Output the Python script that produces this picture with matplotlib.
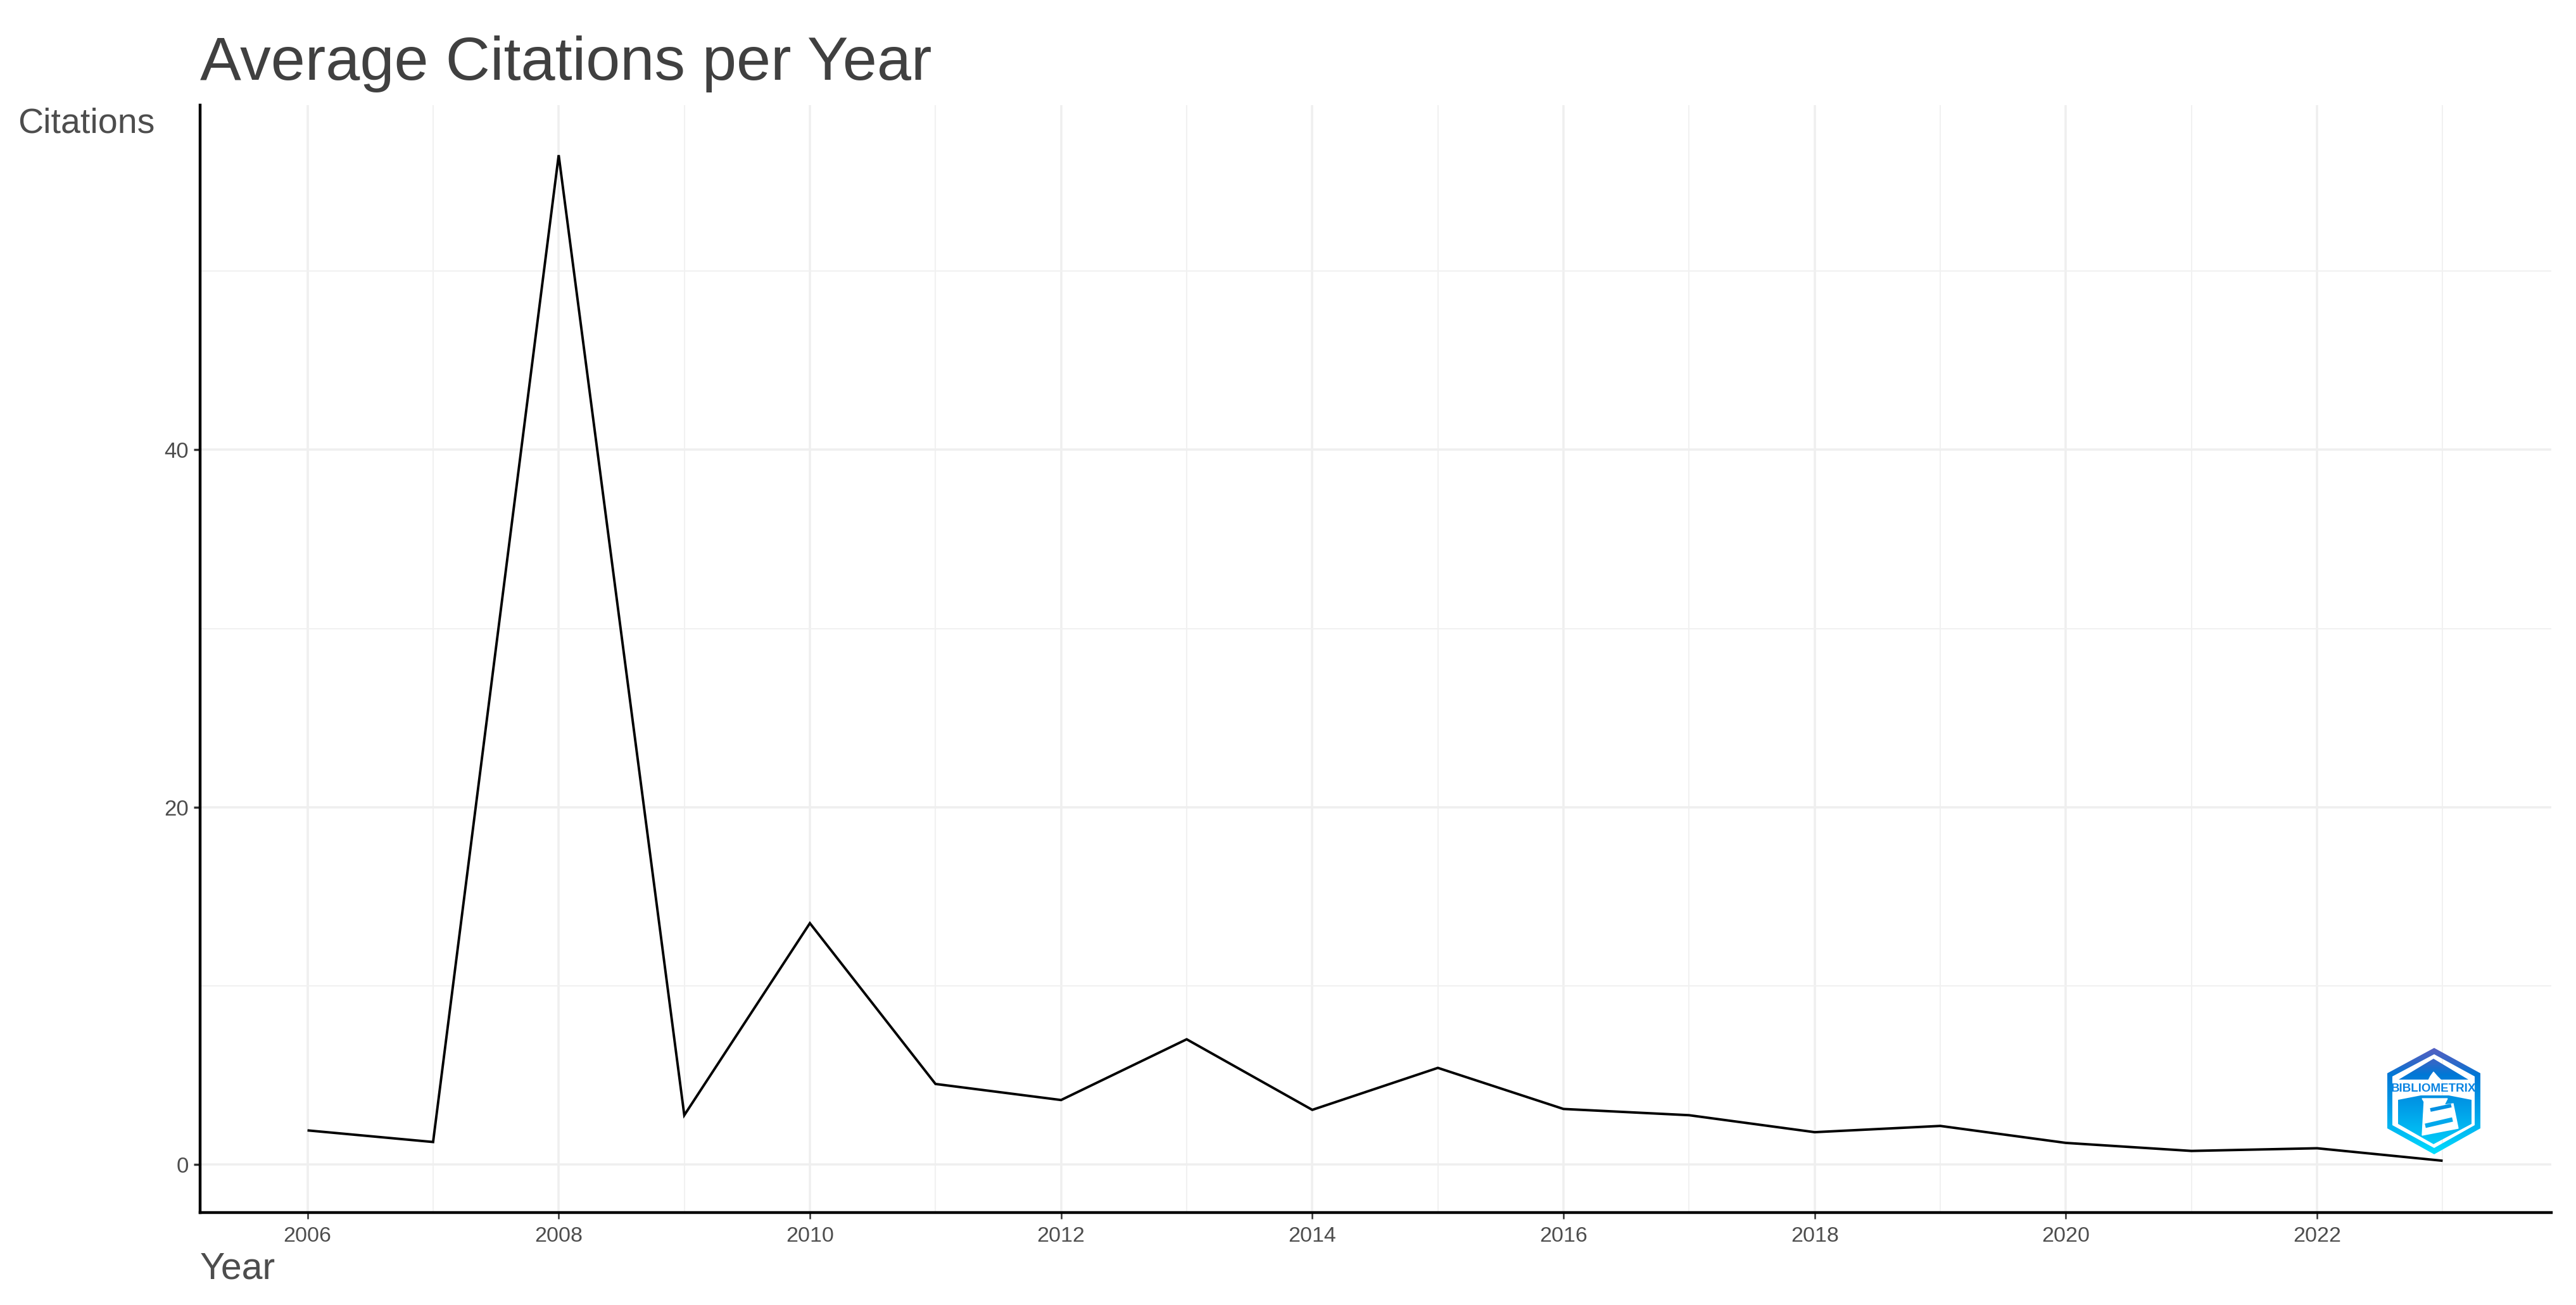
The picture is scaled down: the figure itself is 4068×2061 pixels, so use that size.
import numpy as np
import matplotlib
matplotlib.use("Agg")
import matplotlib.pyplot as plt
from matplotlib.path import Path
from matplotlib.patches import PathPatch
from matplotlib.colors import LinearSegmentedColormap

years = [2006, 2007, 2008, 2009, 2010, 2011, 2012, 2013, 2014,
         2015, 2016, 2017, 2018, 2019, 2020, 2021, 2022, 2023]
citations = [1.9, 1.25, 56.5, 2.75, 13.5, 4.5, 3.6, 7.0, 3.05,
             5.4, 3.1, 2.75, 1.8, 2.15, 1.2, 0.75, 0.9, 0.2]
x_major = [2006, 2008, 2010, 2012, 2014, 2016, 2018, 2020, 2022]
x_minor = [2007, 2009, 2011, 2013, 2015, 2017, 2019, 2021, 2023]
y_major = [0, 20, 40]
y_minor = [10, 30, 50]

W, H = 4068, 2061
plt.rcParams['font.family'] = ['Liberation Sans', 'DejaVu Sans']
fig = plt.figure(figsize=(W / 100, H / 100), dpi=100, facecolor='white')

def fx(px): return px / W
def fy(py): return 1 - py / H

L, R, T, B = 316, 4029, 166, 1915
ax = fig.add_axes([fx(L), fy(B), fx(R - L), (B - T) / H])
ax.set_xlim(2005.145, 2023.865)
ax.set_ylim(-2.7, 59.3)

ax.set_xticks(x_major)
ax.set_xticks(x_minor, minor=True)
ax.set_yticks(y_major)
ax.set_yticks(y_minor, minor=True)
ax.grid(True, which='major', color='#EFEFEF', lw=2.6)
ax.grid(True, which='minor', color='#F1F1F1', lw=1.5)
ax.set_axisbelow(True)
ax.plot(years, citations, color='black', lw=2.8, solid_joinstyle='miter',
        solid_capstyle='butt', zorder=3)

for s in ('top', 'right'):
    ax.spines[s].set_visible(False)
for s in ('left', 'bottom'):
    ax.spines[s].set_linewidth(3.2)
    ax.spines[s].set_color('black')
ax.tick_params(axis='x', which='major', length=7.5, width=1.8, color='#333333',
               labelcolor='#4D4D4D', labelsize=24.5, pad=8)
ax.tick_params(axis='y', which='major', length=7.5, width=2.5, color='#333333',
               labelcolor='#4D4D4D', labelsize=25, pad=5.5)
ax.tick_params(axis='both', which='minor', length=0)

fig.text(fx(316), fy(126), 'Average Citations per Year', fontsize=70, color='#404040',
         ha='left', va='baseline')
fig.text(fx(28), fy(210), 'Citations', fontsize=40, color='#4D4D4D', ha='left', va='baseline')
fig.text(fx(316), fy(2020), 'Year', fontsize=42.5, color='#4D4D4D', ha='left', va='baseline')

# Logo: gradient hexagon badge, in an inset whose data units are image pixels
lx0, lx1, ly0, ly1 = 3770, 3917, 1655, 1823
lax = fig.add_axes([fx(lx0), fy(ly1), fx(lx1 - lx0), (ly1 - ly0) / H], zorder=5)
lax.set_xlim(lx0, lx1)
lax.set_ylim(ly1, ly0)
lax.axis('off')
lax.patch.set_alpha(0)
cmap = LinearSegmentedColormap.from_list(
    'logo', [(0, '#5560C2'), (0.14, '#2F68C8'), (0.25, '#0078D6'),
             (0.6, '#00A2EA'), (0.85, '#00C4F6'), (1, '#00E0FF')])
grad = np.linspace(0, 1, 256).reshape(-1, 1)

def poly(points):
    codes = [Path.MOVETO] + [Path.LINETO] * (len(points) - 1) + [Path.CLOSEPOLY]
    return Path(list(points) + [points[0]], codes)

def fill(points_list):
    verts, codes = [], []
    for p in points_list:
        q = poly(p)
        verts += list(q.vertices)
        codes += list(q.codes)
    im = lax.imshow(grad, cmap=cmap, extent=(lx0, lx1, ly1, ly0), aspect='auto', zorder=1)
    im.set_clip_path(PathPatch(Path(verts, codes), transform=lax.transData))

outer = [(3844, 1655), (3917, 1695), (3917, 1782), (3844, 1823), (3770, 1782), (3770, 1695)]
inner = [(3844, 1665), (3908, 1700), (3908, 1777), (3844, 1813), (3778, 1777), (3778, 1700)][::-1]
fill([outer, inner])
fill([[(3843, 1672), (3898, 1705), (3788, 1705)]])
fill([[(3787, 1737), (3823, 1730), (3867, 1730), (3903, 1737), (3903, 1775), (3843, 1807), (3787, 1775)]])
# lantern, tower and its stripes
lax.fill([3832, 3838, 3843, 3849, 3855, 3855, 3832], [1712, 1700, 1693, 1700, 1706, 1712, 1712],
         color='white', zorder=2)
lax.fill([3825, 3865, 3860, 3874, 3882, 3825, 3828], [1735, 1735, 1745, 1743, 1782, 1793, 1740],
         color='white', zorder=2)
lax.plot([3838, 3871], [1753, 1746], color='#0090E2', lw=4.2, solid_capstyle='butt', zorder=3)
lax.plot([3830, 3873], [1778, 1768], color='#00A8EC', lw=5, solid_capstyle='butt', zorder=3)
lax.text(3843, 1720, 'BIBLIOMETRIX', fontsize=13.5, fontweight='bold', color='#0A84E2',
         ha='center', va='center', zorder=4)

fig.savefig('out.png', dpi=100, facecolor='white')
